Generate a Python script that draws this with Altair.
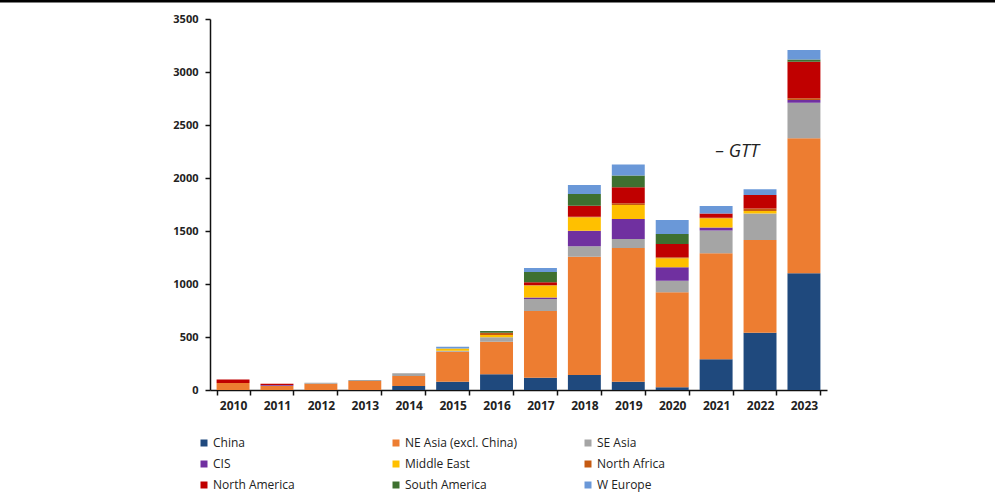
import altair as alt
import pandas as pd

# Annual volumes by region (stacked bottom -> top in the order below)
years = [str(y) for y in range(2010, 2024)]
regions = [
    "China", "NE Asia (excl. China)", "SE Asia",
    "CIS", "Middle East", "North Africa",
    "North America", "South America", "W Europe",
]
colors = ["#1F497D", "#ED7D31", "#A5A5A5", "#7030A0", "#FFC000",
          "#C55A11", "#C00000", "#3E7030", "#6A98D8"]

china         = [0, 0, 0, 0, 38, 79, 148, 116, 142, 79, 25, 290, 540, 1101]
ne_asia       = [65, 40, 60, 85, 94, 283, 308, 629, 1116, 1261, 896, 1000, 874, 1274]
se_asia       = [0, 0, 8, 10, 25, 8, 41, 113, 97, 85, 110, 214, 252, 336]
cis           = [0, 8, 0, 0, 0, 0, 0, 15, 148, 189, 126, 28, 0, 25]
middle_east   = [0, 0, 0, 0, 0, 22, 22, 113, 126, 132, 85, 88, 22, 0]
north_africa  = [0, 0, 0, 0, 0, 0, 20, 5, 5, 16, 10, 5, 25, 16]
north_america = [35, 12, 0, 0, 0, 0, 0, 25, 104, 151, 126, 41, 126, 345]
south_america = [0, 0, 0, 0, 0, 0, 18, 98, 110, 110, 94, 0, 0, 22]
w_europe      = [0, 0, 0, 0, 0, 15, 0, 38, 85, 104, 132, 69, 54, 88]

series = [china, ne_asia, se_asia, cis, middle_east, north_africa,
          north_america, south_america, w_europe]

rows = []
for idx, (name, vals) in enumerate(zip(regions, series)):
    for yr, v in zip(years, vals):
        rows.append({"year": yr, "region": name, "value": v, "idx": idx})
df = pd.DataFrame(rows)

note_df = pd.DataFrame({"year": ["2021"], "value": [2245], "label": ["\u2013 GTT"]})
border_df = pd.DataFrame({"k": [0]})

FONT = "Open Sans"

x_enc = alt.X(
    "year:N",
    title=None,
    sort=years,
    scale=alt.Scale(paddingInner=0.25, paddingOuter=0.15),
    axis=alt.Axis(
        labelAngle=0, labelFont=FONT, labelFontSize=12, labelFontWeight="bold",
        labelColor="#222222", labelPadding=5, tickBand="extent", tickSize=5,
        tickColor="#111111", domainColor="#111111", domainWidth=1.5, tickWidth=1.5,
    ),
)

bars = alt.Chart(df).mark_bar().encode(
    x=x_enc,
    y=alt.Y(
        "value:Q",
        title=None,
        stack="zero",
        scale=alt.Scale(domain=[0, 3500], nice=False),
        axis=alt.Axis(
            values=list(range(0, 3501, 500)), format="d", grid=False,
            labelFont=FONT, labelFontSize=11, labelFontWeight="bold",
            labelColor="#222222", tickSize=5, labelPadding=7,
            tickColor="#111111", domainColor="#111111", domainWidth=1.5,
            tickWidth=1.5,
        ),
    ),
    color=alt.Color(
        "region:N",
        scale=alt.Scale(domain=regions, range=colors),
        legend=alt.Legend(
            title=None, orient="none", direction="horizontal",
            legendX=-12, legendY=418, columns=3,
            gridAlign="all", columnPadding=64, rowPadding=9,
            symbolType="square", symbolSize=49, symbolStrokeWidth=0,
            labelFont=FONT, labelFontSize=12, labelColor="#222222",
            labelOffset=3, labelLimit=300,
        ),
    ),
    order=alt.Order("idx:Q", sort="ascending"),
)

note = alt.Chart(note_df).mark_text(
    font=FONT, fontSize=18, fontStyle="italic", color="#222222", dx=21,
).encode(x=alt.X("year:N", sort=years), y="value:Q", text="label:N")

border = alt.Chart(border_df).mark_rule(color="#000000", strokeWidth=3).encode(
    x=alt.value(-210), x2=alt.value(785), y=alt.value(-18),
)

chart = alt.layer(bars, note, border).properties(
    width=617, height=371,
    autosize=alt.AutoSizeParams(type="none"),
    padding={"left": 210, "top": 19, "right": 168, "bottom": 105},
).configure_view(stroke=None)

chart.save("out.html", embed_options={"renderer": "svg", "actions": False})
